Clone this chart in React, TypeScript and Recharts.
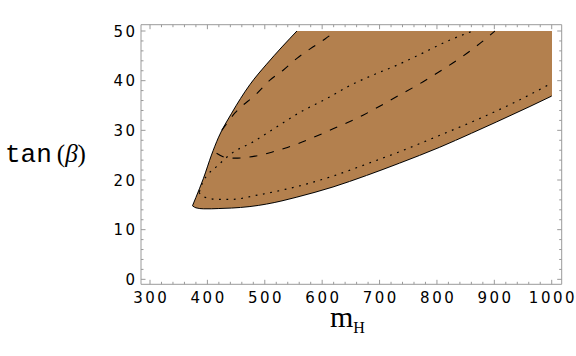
import { ComposedChart, Area, Line, XAxis, YAxis } from "recharts";

// axis ticks (majors labelled, minors only drawn as marks)
const xMajor = [300, 400, 500, 600, 700, 800, 900, 1000];
const yMajor = [0, 10, 20, 30, 40, 50];
const xTicks = xMajor.flatMap((v) => (v < 1000 ? [v, v + 20, v + 40, v + 60, v + 80] : [v]));
const yTicks = yMajor.flatMap((v) => (v < 50 ? [v, v + 2, v + 4, v + 6, v + 8] : [v]));

// allowed region (shaded): lower and upper edge of tan(beta) vs m_H
const regionX = [374, 380, 393, 407, 419, 442, 474, 503, 530, 556, 619, 677, 735, 805, 860, 904, 962, 1000];
const regionLow = [14.8, 14.4, 14.2, 14.2, 14.25, 14.35, 14.65, 15.15, 15.8, 16.55, 18.6, 20.9, 23.4, 26.6, 29.4, 31.7, 34.8, 36.9];
const regionHigh = [14.8, 16.5, 20.3, 25.0, 28.5, 33.4, 39.2, 43.3, 46.8, 50, 50, 50, 50, 50, 50, 50, 50, 50];
const CUT_X = 556; // where the upper edge reaches the tan(beta) = 50 cut

// dashed contours
const dash1X = [425, 448, 486, 509, 532, 556, 579, 605, 624];
const dash1Y = [30.0, 33.5, 37.4, 40.1, 42.1, 44.5, 46.4, 48.4, 50];
const dash2X = [416, 433, 448, 483, 512, 535, 564, 619, 672, 701, 724, 776, 797, 846, 875, 901];
const dash2Y = [25.4, 24.5, 24.4, 24.8, 25.6, 26.4, 27.6, 30.3, 33.1, 34.9, 36.4, 39.8, 41.3, 45.0, 47.5, 50];

// dotted contours
const dot1X = [386, 392, 400, 416, 445, 477, 518, 561, 608, 648, 692, 730, 776, 823, 863];
const dot1Y = [17.6, 19.6, 21.0, 22.7, 25.6, 27.5, 30.5, 33.6, 36.4, 39.0, 41.3, 43.1, 45.6, 48.2, 50];
const dot2X = [385, 392, 400, 419, 442, 489, 535, 570, 619, 677, 735, 805, 875, 933, 1000];
const dot2Y = [17.5, 16.7, 16.4, 16.1, 16.1, 17.0, 18.1, 19.1, 20.8, 23.2, 25.7, 29.0, 32.4, 35.5, 39.5];

const region = regionX.map((x, i) => ({
  x,
  rangeL: x <= CUT_X ? [regionLow[i], regionHigh[i]] : null,
  rangeR: x >= CUT_X ? [regionLow[i], regionHigh[i]] : null,
  low: regionLow[i],
  edge: x <= CUT_X ? regionHigh[i] : null,
}));
const toPoints = (xs: number[], ys: number[]) => xs.map((x, i) => ({ x, y: ys[i] }));
const dash1 = toPoints(dash1X, dash1Y);
const dash2 = toPoints(dash2X, dash2Y);
const dot1 = toPoints(dot1X, dot1Y);
const dot2 = toPoints(dot2X, dot2Y);

const FRAME = "#9a9a9a";
const FILL = "#b3804e";
const LS = 2.5;
const tickFont = { fontFamily: "DejaVu Sans", fontSize: 15, letterSpacing: LS, fill: "#000" };

const X_DOMAIN = [284.3, 1017.4];
const Y_DOMAIN = [-1.0, 51.27];

function BottomTick({ x, y, payload }: any) {
  const major = payload.value % 100 === 0;
  return (
    <g>
      <line x1={x} x2={x} y1={y} y2={y - (major ? 4.5 : 2.5)} stroke={FRAME} />
      {major && (
        <text x={x + LS / 2} y={y + 19} textAnchor="middle" {...tickFont}>
          {payload.value}
        </text>
      )}
    </g>
  );
}

function TopTick({ x, y, payload }: any) {
  const major = payload.value % 100 === 0;
  return <line x1={x} x2={x} y1={y} y2={y + (major ? 4.5 : 2.5)} stroke={FRAME} />;
}

function LeftTick({ x, y, payload }: any) {
  const major = payload.value % 10 === 0;
  return (
    <g>
      <line x1={x} x2={x + (major ? 4.5 : 2.5)} y1={y} y2={y} stroke={FRAME} />
      {major && (
        <text x={x - 6 + LS} y={y + 5.5} textAnchor="end" {...tickFont}>
          {payload.value}
        </text>
      )}
    </g>
  );
}

function RightTick({ x, y, payload }: any) {
  const major = payload.value % 10 === 0;
  return <line x1={x} x2={x - (major ? 4.5 : 2.5)} y1={y} y2={y} stroke={FRAME} />;
}

function TanBetaTitle() {
  return (
    <text x={5} y={162} fill="#000">
      <tspan fontFamily="Liberation Mono" fontSize={26}>tan</tspan>
      <tspan dx={5} fontFamily="Liberation Serif" fontSize={25}>(</tspan>
      <tspan fontFamily="Liberation Serif" fontStyle="italic" fontSize={25}>β</tspan>
      <tspan fontFamily="Liberation Serif" fontSize={25}>)</tspan>
    </text>
  );
}

function MassTitle() {
  return (
    <text x={330} y={327} fill="#000" fontFamily="Liberation Serif">
      <tspan fontSize={30}>m</tspan>
      <tspan fontSize={16} dy={6}>H</tspan>
    </text>
  );
}

export default function App() {
  return (
    <div style={{ position: "absolute", left: 0, top: 0, width: 576, height: 356, background: "#fff" }}>
      <ComposedChart
        width={576}
        height={356}
        data={region}
        margin={{ top: 4.7, right: 0.3, bottom: 41.7, left: 101 }}
      >
        <XAxis
          dataKey="x"
          type="number"
          domain={X_DOMAIN}
          allowDataOverflow
          ticks={xTicks}
          interval={0}
          height={30}
          tickSize={0}
          tickMargin={0}
          tickLine={false}
          axisLine={{ stroke: FRAME }}
          tick={BottomTick}
          label={<MassTitle />}
        />
        <XAxis
          xAxisId="top"
          orientation="top"
          dataKey="x"
          type="number"
          domain={X_DOMAIN}
          allowDataOverflow
          ticks={xTicks}
          interval={0}
          height={20}
          tickSize={0}
          tickMargin={0}
          tickLine={false}
          axisLine={{ stroke: FRAME }}
          tick={TopTick}
        />
        <YAxis
          type="number"
          domain={Y_DOMAIN}
          allowDataOverflow
          ticks={yTicks}
          interval={0}
          width={40}
          tickSize={0}
          tickMargin={0}
          tickLine={false}
          axisLine={{ stroke: FRAME }}
          tick={LeftTick}
          label={<TanBetaTitle />}
        />
        <YAxis
          yAxisId="right"
          orientation="right"
          type="number"
          domain={Y_DOMAIN}
          allowDataOverflow
          ticks={yTicks}
          interval={0}
          width={14}
          tickSize={0}
          tickMargin={0}
          tickLine={false}
          axisLine={{ stroke: FRAME }}
          tick={RightTick}
        />

        {/* shaded allowed region, split at the cut so the corner stays sharp
            (crisp edges hide the seam; curved edges are covered by the black lines) */}
        <Area type="monotone" dataKey="rangeL" stroke="none" fill={FILL} fillOpacity={1} shapeRendering="crispEdges" dot={false} activeDot={false} isAnimationActive={false} />
        <Area type="monotone" dataKey="rangeR" stroke="none" fill={FILL} fillOpacity={1} shapeRendering="crispEdges" dot={false} activeDot={false} isAnimationActive={false} />

        {/* solid edges of the region (not on the top / right cut) */}
        <Line type="monotone" dataKey="edge" stroke="#000" strokeWidth={1} dot={false} activeDot={false} isAnimationActive={false} />
        <Line type="monotone" dataKey="low" stroke="#000" strokeWidth={1} dot={false} activeDot={false} isAnimationActive={false} />

        {/* dashed contours */}
        <Line data={dash1} type="monotone" dataKey="y" stroke="#000" strokeWidth={1.1} strokeDasharray="8 9" dot={false} activeDot={false} isAnimationActive={false} />
        <Line data={dash2} type="monotone" dataKey="y" stroke="#000" strokeWidth={1.1} strokeDasharray="8 9" dot={false} activeDot={false} isAnimationActive={false} />

        {/* dotted contours */}
        <Line data={dot1} type="monotone" dataKey="y" stroke="#000" strokeWidth={1.2} strokeDasharray="1.8 5.6" dot={false} activeDot={false} isAnimationActive={false} />
        <Line data={dot2} type="monotone" dataKey="y" stroke="#000" strokeWidth={1.2} strokeDasharray="1.8 5.6" dot={false} activeDot={false} isAnimationActive={false} />
      </ComposedChart>
    </div>
  );
}
